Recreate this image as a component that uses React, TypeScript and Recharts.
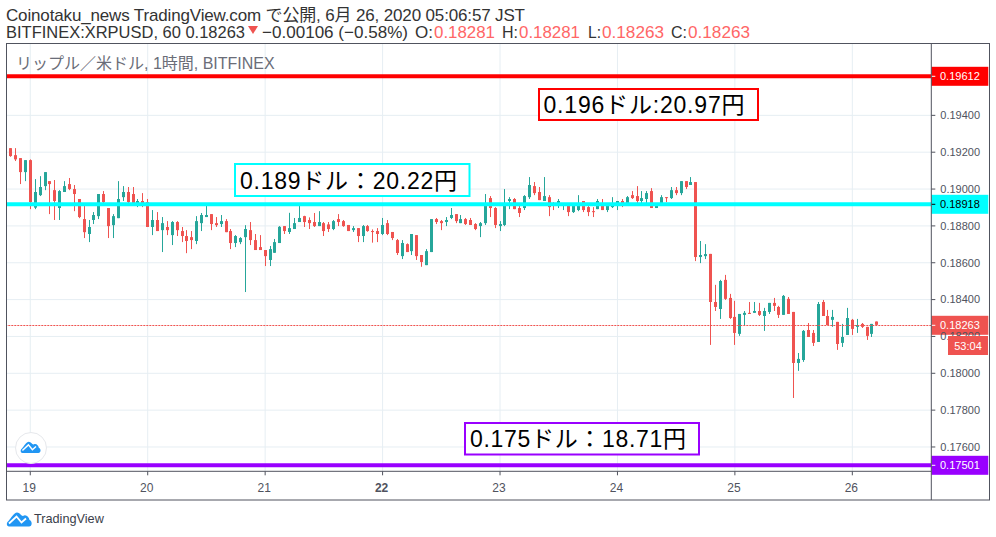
import React from 'react';
import { ComposedChart, Bar, XAxis, YAxis, CartesianGrid, ReferenceLine } from 'recharts';

const FONT = '"Liberation Sans", "Noto Sans CJK JP", sans-serif';
const RED = '#ef5350';
const GREEN = '#26a69a';
const AXIS = '#50535e';
const GRID = '#e6eef3';

// Prices in 1/100000 USD, hourly candles, first candle sits 4 hours before the "19" tick.
const FIRST_HOUR = -4;
const opens = [19222,19184,19168,19092,19157,18899,18967,19016,19043,18994,18897,18984,19027,19000,18946,18837,18756,18832,18853,18973,18897,18804,18842,18956,18984,18973,18908,18935,18929,18794,18832,18777,18794,18750,18821,18772,18745,18739,18718,18815,18848,18864,18815,18810,18826,18772,18707,18712,18739,18777,18723,
  18685,18669,18615,18654,18707,18799,18767,18783,18821,18853,18832,18821,18799,18815,18808,18783,18837,18826,18805,18777,18788,18745,18799,18772,18772,18756,18815,18767,18723,18636,18701,18663,18750,18642,18587,18658,18837,18826,18821,18843,18864,18815,18837,18832,18810,18799,18815,18951,18897,18799,18805,18935,18946,18897,18897,18956,19016,18984,18935,18956,18922,18908,18908,18908,18875,18886,18935,18902,18880,18891,18918,18886,18902,18908,18935,18924,18967,18962,18935,18946,18989,18897,18924,18956,18951,18994,18978,19043,19022,
  19038,18631,18636,18648,18387,18349,18507,18409,18306,18214,18317,18328,18328,18338,18311,18333,18382,18360,18317,18404,18333,18056,18072,18235,18219,18170,18387,18311,18290,18279,18165,18208,18290,18252,18268,18252,18214,18281];
const closes = [19179,19161,19092,19157,18929,18984,19011,19092,19027,18935,18989,19016,19000,18973,18848,18766,18794,18859,18973,18929,18799,18853,18946,18984,18929,18918,18935,18913,18794,18832,18772,18815,18777,18821,18777,18745,18718,18723,18826,18859,18859,18810,18804,18826,18766,18707,18745,18734,18783,18723,18669,
  18669,18636,18674,18712,18795,18772,18788,18815,18843,18821,18815,18799,18821,18772,18783,18826,18821,18799,18772,18788,18745,18799,18772,18767,18756,18805,18756,18734,18653,18707,18658,18756,18636,18604,18663,18837,18821,18815,18832,18859,18826,18837,18810,18805,18783,18815,18908,18897,18805,18810,18908,18946,18891,18870,18962,19022,18978,18940,18962,18902,18908,18935,18918,18875,18908,18908,18886,18875,18875,18935,18886,18908,18913,18935,18908,18956,18951,18935,18951,18978,18897,18913,18956,18951,18994,18978,19043,19011,19038,
  18631,18642,18647,18387,18360,18501,18404,18300,18219,18322,18328,18322,18338,18317,18338,18382,18366,18317,18420,18322,18056,18078,18230,18197,18165,18376,18311,18262,18306,18159,18197,18300,18241,18262,18252,18203,18268,18263];
const highs = [19222,19222,19168,19157,19161,19054,19070,19092,19043,19049,18994,19043,19060,19022,18946,18908,18832,18875,18973,18989,18897,18864,19043,19016,19011,19011,18946,18978,18946,18886,18875,18848,18826,18826,18826,18794,18777,18772,18853,18870,18908,18864,18848,18859,18837,18783,18750,18739,18804,18821,18756,
  18750,18669,18691,18729,18799,18799,18871,18843,18908,18855,18846,18870,18880,18821,18821,18832,18864,18832,18805,18799,18788,18805,18805,18781,18788,18843,18832,18767,18729,18723,18705,18756,18750,18642,18674,18837,18843,18832,18848,18897,18864,18859,18843,18843,18815,18821,18973,18962,18902,18826,19000,18956,18951,18908,18967,19065,19038,19011,19065,18967,18929,18946,18922,18922,18918,18967,18935,18908,18902,18946,18946,18918,18956,18935,18946,18962,18989,19016,18989,18989,19005,18922,18967,18956,19011,19011,19043,19043,19065,
  19038,18718,18701,18648,18480,18507,18534,18431,18393,18322,18338,18387,18387,18382,18355,18382,18409,18366,18425,18414,18333,18110,18235,18273,18235,18387,18398,18344,18344,18279,18268,18355,18295,18295,18273,18252,18268,18281];
const lows = [19175,19152,19027,19043,18891,18891,18962,18994,18864,18832,18832,18984,18994,18880,18842,18734,18712,18810,18837,18918,18734,18734,18842,18935,18913,18913,18902,18902,18794,18750,18772,18658,18750,18696,18745,18712,18652,18674,18701,18772,18848,18777,18794,18794,18766,18674,18685,18701,18441,18696,18669,
  18669,18582,18582,18654,18707,18756,18756,18783,18821,18794,18783,18794,18799,18745,18767,18777,18799,18795,18772,18767,18712,18712,18768,18709,18712,18750,18750,18723,18642,18620,18658,18642,18615,18578,18587,18658,18810,18777,18799,18837,18815,18815,18805,18805,18777,18739,18805,18848,18788,18772,18799,18891,18891,18848,18886,18946,18967,18940,18935,18853,18886,18897,18886,18853,18870,18880,18875,18853,18848,18891,18886,18875,18897,18886,18902,18913,18946,18913,18924,18924,18897,18897,18918,18929,18946,18967,18967,19000,19022,
  18609,18598,18620,18154,18338,18295,18398,18295,18154,18203,18262,18322,18328,18311,18230,18322,18338,18300,18317,18322,17866,18013,18062,18197,18148,18170,18311,18262,18252,18127,18143,18208,18208,18219,18246,18181,18197,18263];

const candles = opens.map((o, k) => ({
  t: FIRST_HOUR + k,
  open: o / 1e5,
  close: closes[k] / 1e5,
  range: [lows[k] / 1e5, highs[k] / 1e5],
}));

const dayLabels = ['19', '20', '21', '22', '23', '24', '25', '26'];
const dayTicks = [0, 24, 48, 72, 96, 120, 144, 168];
const priceTicks = [0.176, 0.178, 0.18, 0.182, 0.184, 0.186, 0.188, 0.19, 0.192, 0.194];
const RED_LEVEL = 0.19612;
const CYAN_LEVEL = 0.18918;
const PURPLE_LEVEL = 0.17501;
const LAST_PRICE = 0.18263;
const COUNTDOWN = '53:04';

const W = 996, H = 537;
const PL = 6.5, PR = 931.3, PT = 43.5, PB = 471.3;

const Candle = (p: any) => {
  const { x, y, width, height, payload } = p;
  const [lo, hi] = payload.range;
  const cx = Math.round(x + width / 2 - 0.5) + 0.5;
  const at = (v: number) => y + ((hi - v) / (hi - lo || 1)) * height;
  const up = payload.close >= payload.open;
  const c = up ? GREEN : RED;
  const top = at(Math.max(payload.open, payload.close));
  const bot = at(Math.min(payload.open, payload.close));
  return (
    <g>
      <line x1={cx} x2={cx} y1={y} y2={y + height} stroke={c} strokeWidth={1} />
      <rect x={cx - 1.5} y={top} width={3} height={Math.max(bot - top, 1)} fill={c} />
    </g>
  );
};

const PriceTag = ({ viewBox, text, fill, color }: any) => {
  const right = viewBox.x + viewBox.width;
  const cy = Math.round(viewBox.y) + 0.3;
  return (
    <g>
      <rect x={right} y={cy - 9.5} width={57} height={19} fill={fill} />
      <line x1={right} x2={right + 4} y1={cy} y2={cy} stroke={color} />
      <text x={right + 8.7} y={cy + 4} fontSize={11} fontFamily={FONT} fill={color}>{text}</text>
    </g>
  );
};

const DottedLine = (p: any) => (
  <line x1={p.x1} x2={p.x2} y1={Math.round(p.y1) + 0.5} y2={Math.round(p.y2) + 0.5}
    stroke={RED} strokeWidth={1} strokeDasharray="2 1" />
);

const DayTick = ({ x, y, payload }: any) => {
  const i = dayTicks.indexOf(payload.value);
  return (
    <text x={x - 1} y={y + 15} textAnchor="middle" fontSize={12} fontFamily={FONT} fill={AXIS}
      fontWeight={dayLabels[i] === '22' ? 700 : 400}>
      {dayLabels[i]}
    </text>
  );
};

const Cloud = ({ x, y, s }: { x: number; y: number; s: number }) => (
  <g transform={`translate(${x},${y}) scale(${s})`}>
    <path d="M3,15.5 C0.5,15.5 0,11.5 2.5,10 C5,7 8,1.5 11,1.5 C14,1.5 14.5,4.5 17,5 C20,3 23,6 23.5,9 C26.5,10 26.5,15.5 23,15.5 Z" fill="#2196f3" />
    <polyline points="3,12.5 10.5,5.5 15.5,11.5 20,7.5" fill="none" stroke="#fff" strokeWidth={1.8} />
  </g>
);

const Note = ({ x, y, w, h, color, text, tx, tl }: any) => (
  <g>
    <rect x={x} y={y} width={w} height={h} fill="#fff" stroke={color} strokeWidth={2} />
    <text x={tx} y={y + h / 2 + 8.5} fontSize={23} fontFamily={FONT} fill="#000" textLength={tl} lengthAdjust="spacing">{text}</text>
  </g>
);

const Part = ({ x, w, fill, children }: any) => (
  <text x={x} y={37.5} fontSize={17} fill={fill || '#333'} textLength={w} lengthAdjust="spacingAndGlyphs">{children}</text>
);

export default function App() {
  return (
    <div style={{ position: 'absolute', left: 0, top: 0, width: W, height: H, background: '#fff', overflow: 'hidden' }}>
      <ComposedChart
        width={W}
        height={H}
        data={candles}
        margin={{ left: PL, right: W - PR - 58, top: PT, bottom: H - PB - 29 }}
        style={{ position: 'absolute', left: 0, top: 0 }}
      >
        <CartesianGrid stroke={GRID} strokeWidth={1} verticalValues={dayTicks} horizontalValues={priceTicks} />
        <XAxis dataKey="t" type="number" domain={[-4.86, 184.14]} allowDataOverflow ticks={dayTicks}
          interval={0} height={29} axisLine={false} tickLine={{ stroke: AXIS }} tickSize={4} tick={<DayTick />} />
        <YAxis orientation="right" type="number" domain={[0.17468, 0.1979]} allowDataOverflow ticks={priceTicks}
          interval={0} width={58} axisLine={false} tickLine={{ stroke: AXIS }} tickSize={4} tickMargin={5}
          tick={{ fontSize: 11, fontFamily: FONT, fill: AXIS }} tickFormatter={(v: number) => v.toFixed(5)} />
        <Bar dataKey="range" barSize={3} shape={<Candle />} isAnimationActive={false} />
        <ReferenceLine y={LAST_PRICE} shape={<DottedLine />}
          label={<PriceTag text={LAST_PRICE.toFixed(5)} fill={RED} color="#fff" />} />
        <ReferenceLine y={RED_LEVEL} stroke="#ff0000" strokeWidth={4}
          label={<PriceTag text={RED_LEVEL.toFixed(5)} fill="#ff0000" color="#fff" />} />
        <ReferenceLine y={CYAN_LEVEL} stroke="#00ffff" strokeWidth={4}
          label={<PriceTag text={CYAN_LEVEL.toFixed(5)} fill="#00ffff" color="#000" />} />
        <ReferenceLine y={PURPLE_LEVEL} stroke="#9900ff" strokeWidth={4}
          label={<PriceTag text={PURPLE_LEVEL.toFixed(5)} fill="#9900ff" color="#fff" />} />
      </ComposedChart>

      <svg width={W} height={H} style={{ position: 'absolute', left: 0, top: 0, pointerEvents: 'none' }}>
        <g fontFamily={FONT}>
          <text x={6} y={20.5} fontSize={17} fill="#333" textLength={519} lengthAdjust="spacing">Coinotaku_news TradingView.com で公開, 6月 26, 2020 05:06:57 JST</text>
          <Part x={6} w={239}>BITFINEX:XRPUSD, 60 0.18263</Part>
          <Part x={262} w={146}>−0.00106 (−0.58%)</Part>
          <Part x={415} w={18}>O:</Part>
          <Part x={434} w={61} fill="#f66">0.18281</Part>
          <Part x={502} w={16}>H:</Part>
          <Part x={519} w={61} fill="#f66">0.18281</Part>
          <Part x={588} w={13}>L:</Part>
          <Part x={602} w={62} fill="#f66">0.18263</Part>
          <Part x={671} w={16}>C:</Part>
          <Part x={688} w={62} fill="#f66">0.18263</Part>
          <polygon points="248,26 258,26 253,34" fill="#ef5350" />
          <text x={16} y={69} fontSize={16} fill="#6a6d78">リップル／米ドル, 1時間, BITFINEX</text>
          <text x={34} y={523} fontSize={12.7} fill="#3a3e4a">TradingView</text>
        </g>

        <rect x={PL} y={43.5} width={989.5 - PL} height={500 - 43.5} fill="none" stroke={AXIS} strokeWidth={1} />
        <line x1={PR} x2={PR} y1={43.5} y2={500} stroke={AXIS} />
        <line x1={PL} x2={PR} y1={PB} y2={PB} stroke={AXIS} />

        <rect x={948} y={336} width={40} height={19} fill={RED} />
        <text x={968} y={349.5} textAnchor="middle" fontSize={11} fontFamily={FONT} fill="#fff">{COUNTDOWN}</text>

        <Note x={539} y={89} w={219} h={31} color="#ff0000" text="0.196ドル:20.97円" tx={543.5} tl={201} />
        <Note x={235} y={164} w={234.5} h={32} color="#00ffff" text="0.189ドル：20.22円" tx={240} tl={217} />
        <Note x={465} y={423} w={234} h={31.5} color="#9900ff" text="0.175ドル：18.71円" tx={470} tl={216} />

        <circle cx={31} cy={448} r={15.5} fill="#fff" stroke="#e6e8ec" />
        <Cloud x={20} y={440.5} s={0.8} />
        <Cloud x={6} y={511} s={1} />
      </svg>
    </div>
  );
}
